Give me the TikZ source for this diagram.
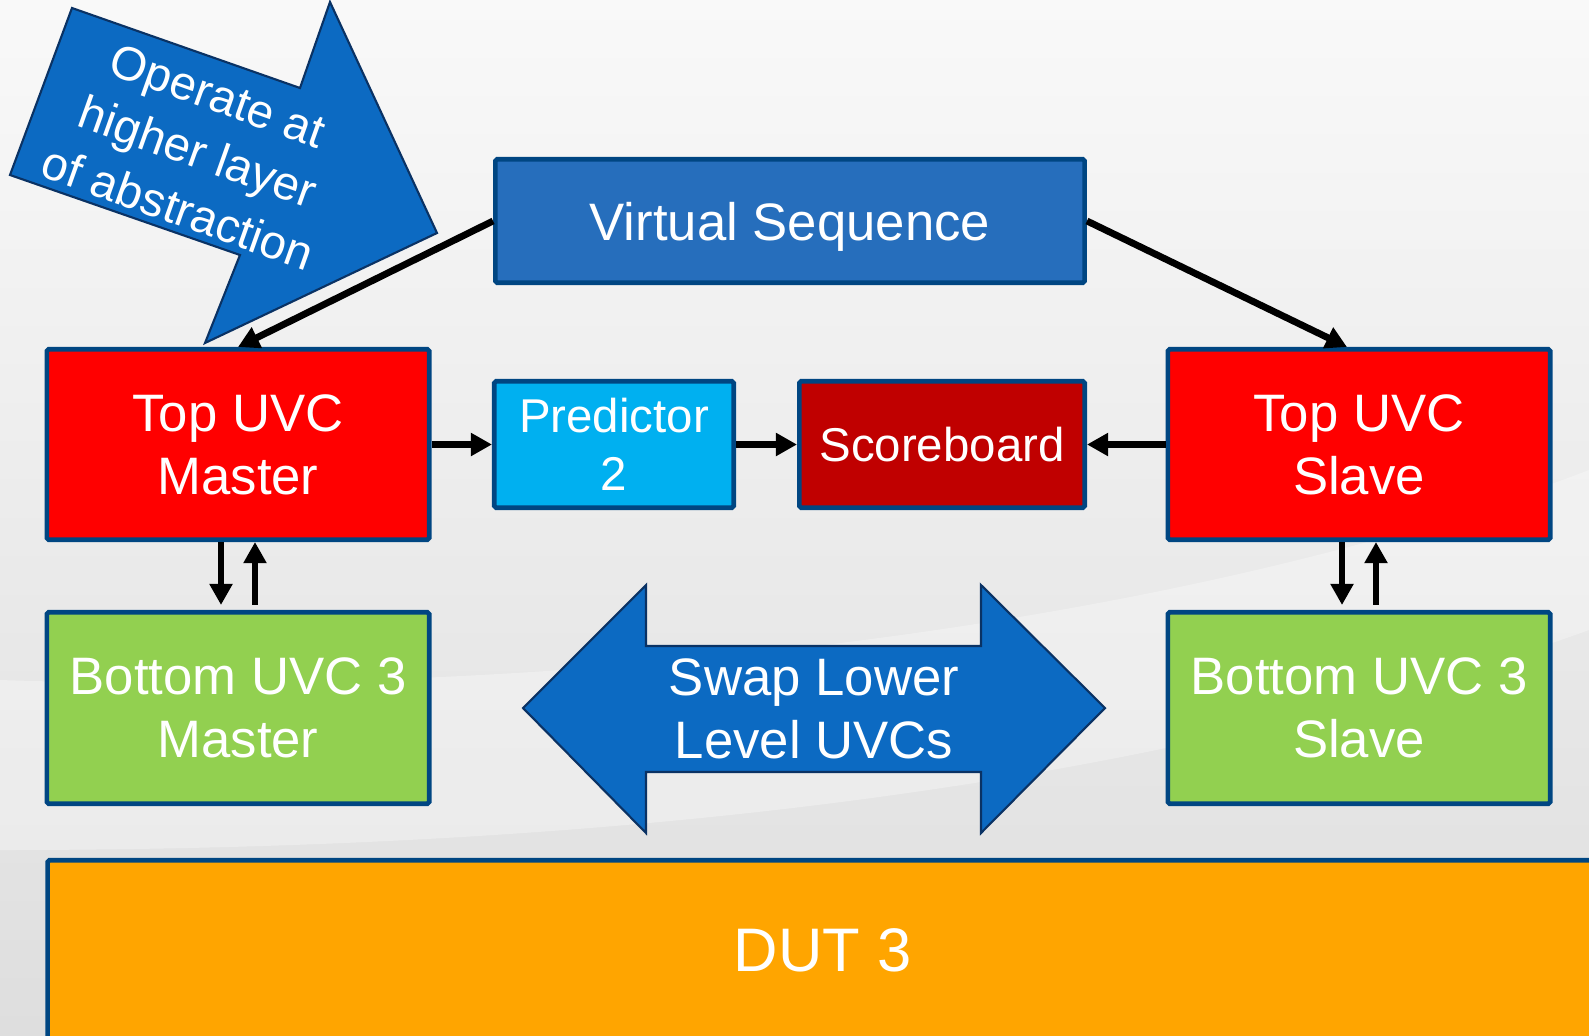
\documentclass[tikz,border=0pt]{standalone}
\usepackage{fontspec}
\setmainfont{Liberation Sans}
\usetikzlibrary{positioning,arrows.meta}

\definecolor{bg_top}{RGB}{249,249,249}
\definecolor{bg_mid}{RGB}{224,224,224}
\definecolor{bg_bottom}{RGB}{222,222,222}
\definecolor{box_edge}{RGB}{0,70,130}
\definecolor{vseq_fill}{RGB}{38,110,188}
\definecolor{pred_fill}{RGB}{0,176,240}
\definecolor{score_fill}{RGB}{192,0,0}
\definecolor{bottom_fill}{RGB}{146,208,80}
\definecolor{dut_fill}{RGB}{255,165,0}
\definecolor{arrow_fill}{RGB}{12,106,194}
\definecolor{arrow_edge}{RGB}{10,50,100}

\tikzset{
        block/.style={rectangle, draw=box_edge, line width=2.6pt, rounded corners=1pt, text=white, align=center, inner sep=0pt},
        % Virtual sequence
        block_vseq/.style={block, fill=vseq_fill, minimum width=11.79cm, minimum height=2.47cm, text depth=0pt, font=\fontsize{30}{36}\selectfont},
        % Top UVCs
        block_top/.style={block, fill=red, minimum width=7.65cm, minimum height=3.81cm, font=\fontsize{30}{36}\selectfont},
        % Bottom UVCs
        block_bottom/.style={block, fill=bottom_fill, minimum width=7.65cm, minimum height=3.83cm, font=\fontsize{30}{36}\selectfont},
        % Predictor and scoreboard
        block_pred/.style={block, fill=pred_fill, minimum width=4.79cm, minimum height=2.53cm, font=\fontsize{27}{33}\selectfont},
        block_score/.style={block, fill=score_fill, minimum width=5.71cm, minimum height=2.53cm, font=\fontsize{27}{33}\selectfont},
        % DUT
        block_dut/.style={block, fill=dut_fill, minimum width=31.0cm, minimum height=3.61cm, font=\fontsize{35}{42}\selectfont},
        % Connectors
        link/.style={-{Triangle[length=12pt,width=12.5pt]}, line width=3.9pt, black},
        % Big block arrows
        big_arrow/.style={fill=arrow_fill, draw=arrow_edge, line width=1.2pt, line join=miter},
        big_label/.style={text=white, align=center}
}

\begin{document}
\begin{tikzpicture}[x=0.02cm, y=-0.02cm]
            \clip (0,0) rectangle (1589,1035);
            % Background
            \fill[top color=bg_top, middle color=bg_mid, bottom color=bg_bottom] (0,0) rectangle (1589,1035);
            \fill[white, opacity=0.3] (0,680) .. controls (600,700) and (1200,620) .. (1589,470)
                -- (1589,630) .. controls (1200,770) and (700,850) .. (0,850) -- cycle;

            % Abstraction arrow
            \filldraw[big_arrow] (72,8) -- (300,88) -- (330,2) -- (437,233) -- (205,343) -- (240,255) -- (10,175) -- cycle;
            \node[big_label, rotate=-19.6, font=\fontsize{27}{34}\selectfont] (abstraction) at (198,152) {Operate at\\higher layer\\of abstraction};

            % Blocks
            \node[block_vseq] (vseq) at (790,221) {Virtual Sequence};
            \node[block_top] (master) at (238,444.5) {Top UVC\\Master};
            \node[block_top] (slave) at (1359,444.5) {Top UVC\\Slave};
            \node[block_pred] (pred) at (614,444.5) {Predictor\\2};
            \node[block_score] (score) at (942,444.5) {Scoreboard};
            \node[block_bottom] (bmaster) at (238,708) {Bottom UVC 3\\Master};
            \node[block_bottom] (bslave) at (1359,708) {Bottom UVC 3\\Slave};
            \node[block_dut] (dut) at (822.5,950.5) {DUT 3};

            % Swap arrow
            \filldraw[big_arrow] (523,708) -- (646,585) -- (646,646) -- (981,646) -- (981,585) -- (1105,708)
                -- (981,833) -- (981,772) -- (646,772) -- (646,833) -- cycle;
            \node[big_label, font=\fontsize{30}{36}\selectfont] (swap) at (814,709) {Swap Lower\\Level UVCs};

            % Connectors
            \draw[link] (vseq.west) -- (master.north);
            \draw[link] (vseq.east) -- ([xshift=-0.24cm]slave.north);
            \draw[link] (master.east) -- (pred.west);
            \draw[link] (pred.east) -- (score.west);
            \draw[link] (slave.west) -- (score.east);
            \foreach \n/\m in {master/bmaster, slave/bslave} {
                \draw[link, shorten >=0.1cm] ([xshift=-0.34cm]\n.south) -- ([xshift=-0.34cm]\m.north);
                \draw[link, shorten <=0.1cm] ([xshift=0.34cm]\m.north) -- ([xshift=0.34cm]\n.south);
            }
\end{tikzpicture}
\end{document}
